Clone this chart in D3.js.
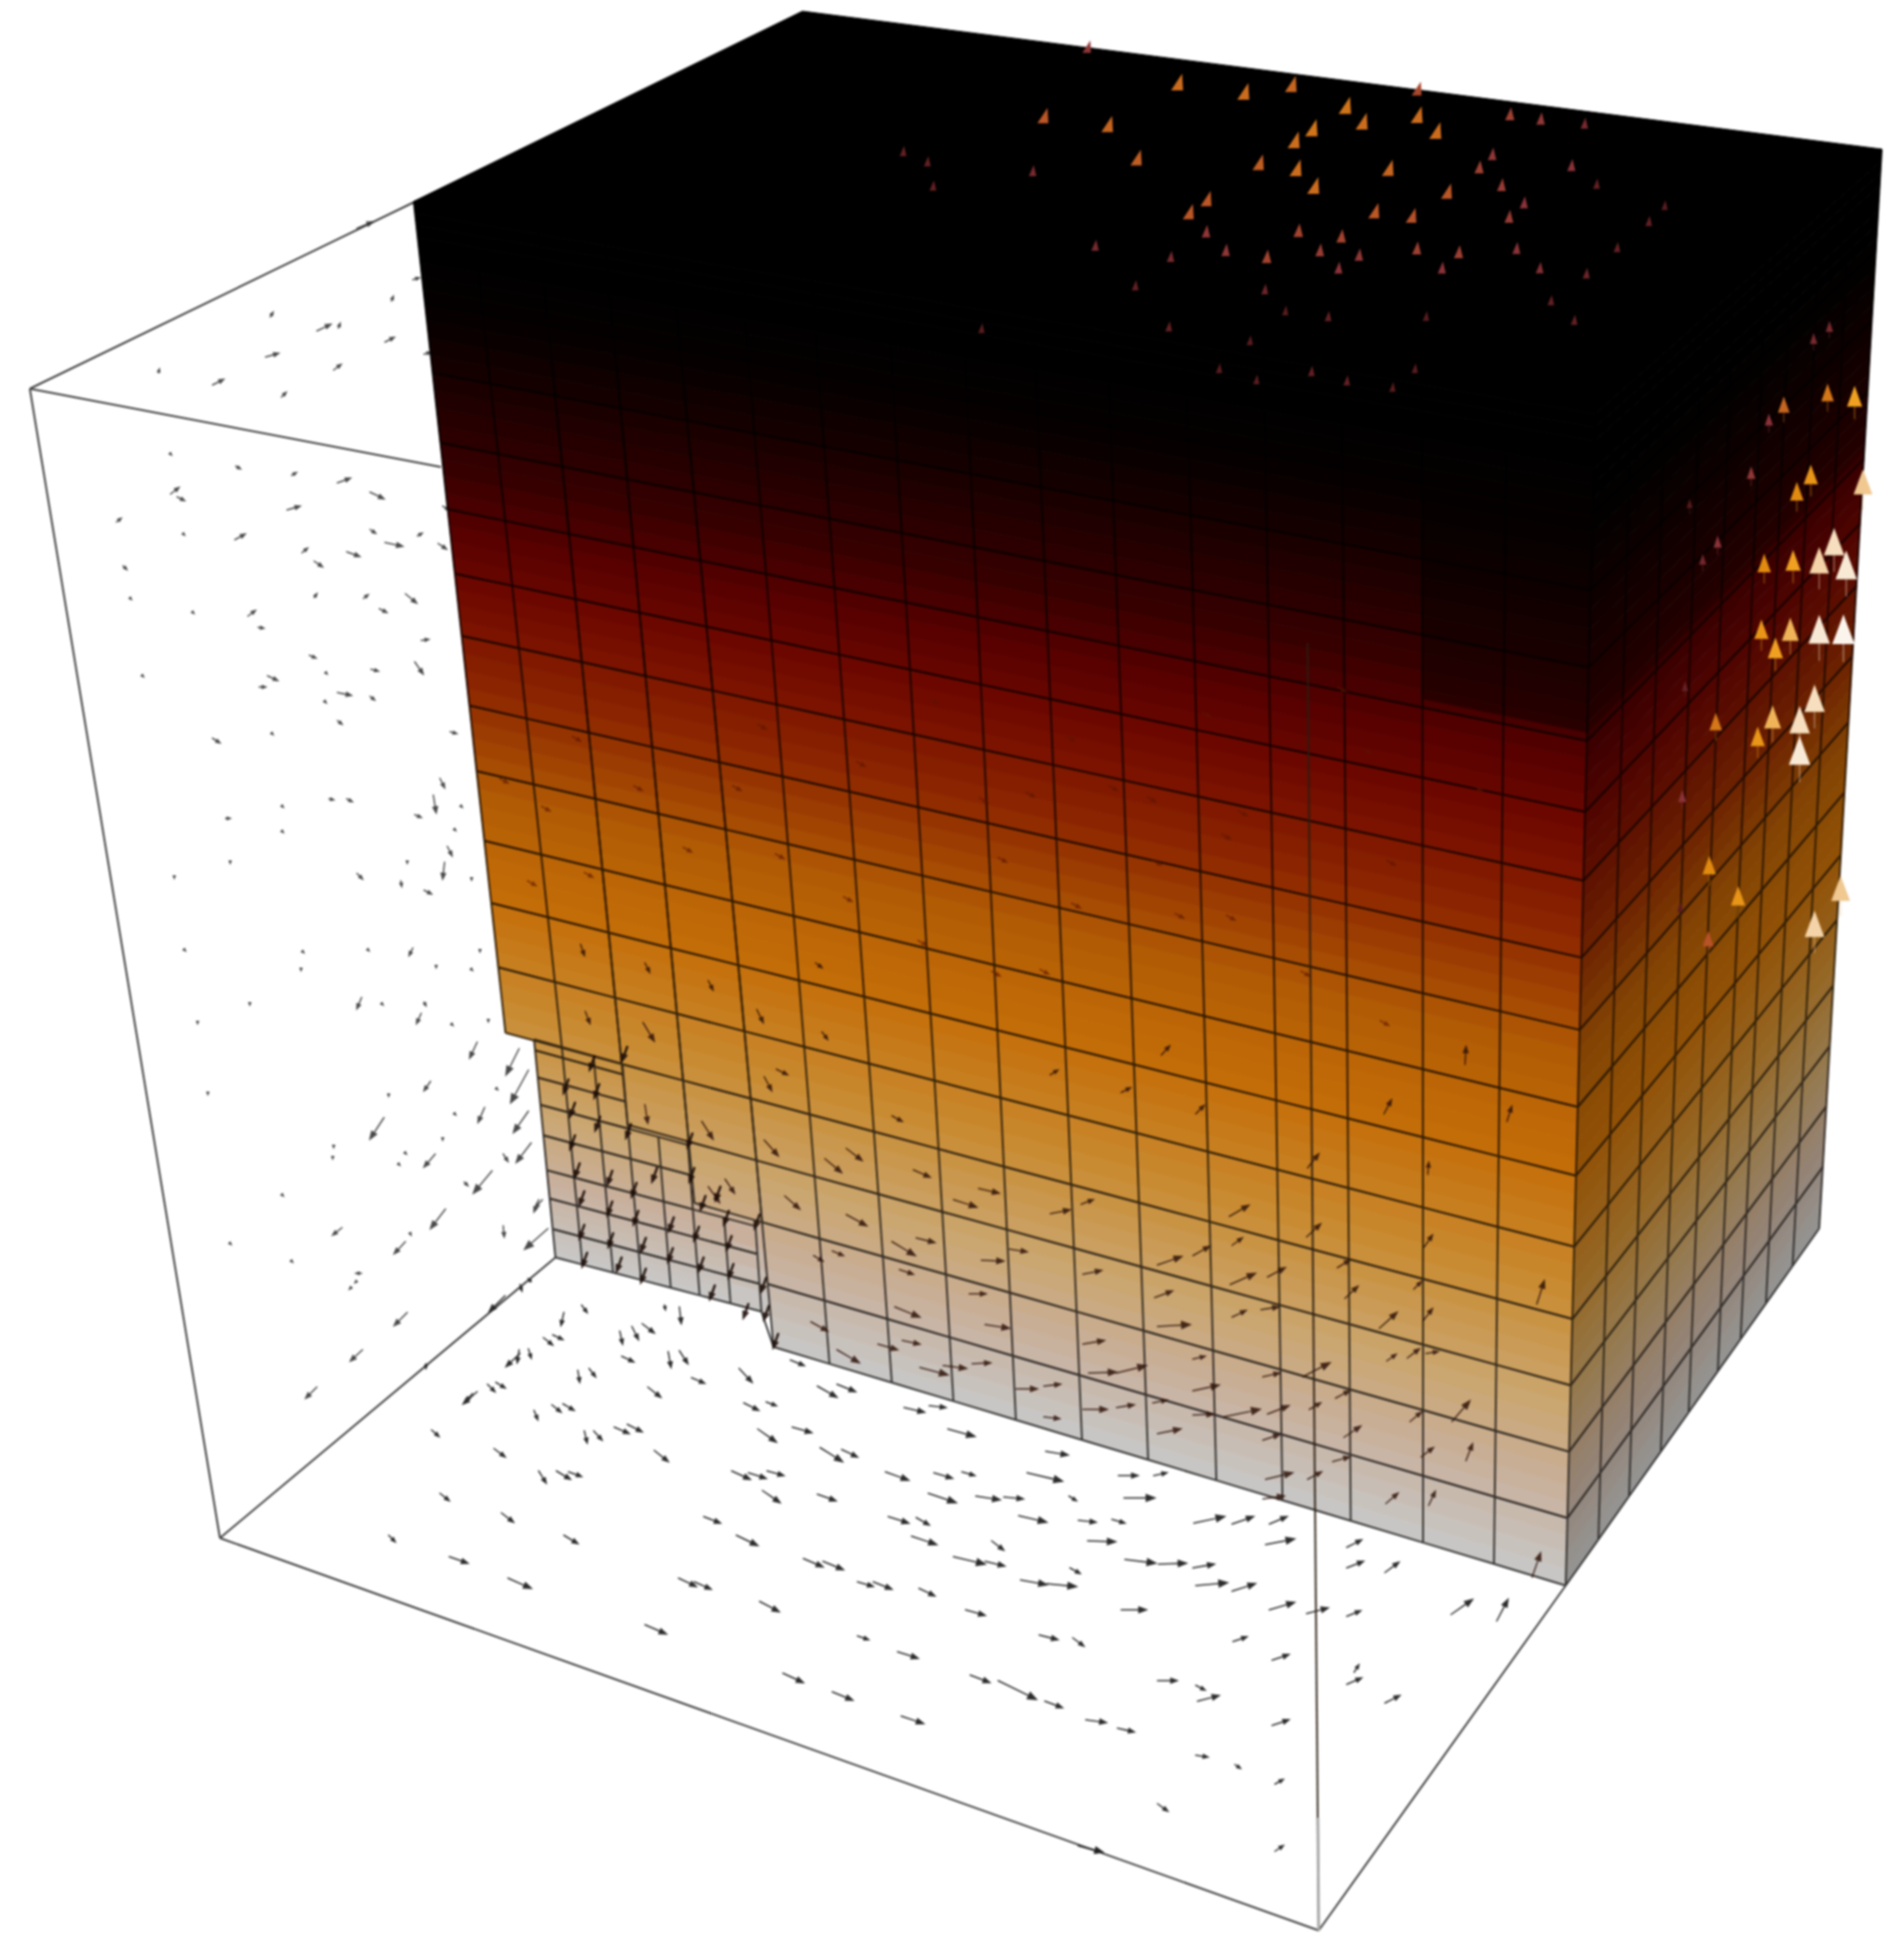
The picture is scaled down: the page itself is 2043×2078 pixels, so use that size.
<!DOCTYPE html>
<html>
<head>
<meta charset="utf-8">
<style>
  html, body { margin: 0; background: #fff; }
  svg { display: block; filter: blur(0.85px); }
</style>
<script src="https://cdn.jsdelivr.net/npm/d3@7"></script>
</head>
<body>
<svg id="container"></svg>
<script>
const width = 2043, height = 2078

const viewW = 2043, viewH = 2078

// height levels of the mesh, 0 = bottom of the block, 1 = top
const rowLevels = [0, .057, .113, .169, .225, .286, .346, .404, .469, .53, .595, .653, .713, .775, .84, .905, .955, 1]
// front face column lines, as fraction along bottom and top edge
const colBottom = [0, .054, .11, .168, .2335, .2877, .348, .4076, .468, .532, .596, .662, .726, .792, .862, .9306, 1]
const colTop = [0, .049, .105, .161, .217, .276, .336, .4, .464, .524, .586, .653, .719, .785, .853, .925, 1]
// first row index each front column starts from (stair at the lower left)
const colFirstRow = [4, 4, 3, 2, 0, 0, 0, 0, 0, 0, 0, 0, 0, 0, 0, 0]
// right face columns
const sideCols = [0, .129, .25, .375, .485, .6, .69, .79, .895, 1]
// refined block in the lower left corner
const fineCols = [0, .131, .28, .416, .56, .7, .85, 1]
const fineRows = [0, .13, .27, .4, .56, .7, .825, .95, 1]
const fineLastRow = [8, 8, 8, 5, 5, 3, 3]
const fineTopLevel = .225

// temperature colour along the height
const colorLevels = [0, .08, .15, .25, .35, .45, .55, .6, .65, .7, .75, .8, .85, .9, .95, 1]
const colorStops = ['#c8c8c8', '#c8b09c', '#caa670', '#c98a30', '#c46e08', '#b05a04', '#8c2600', '#7c1400', '#6a0600', '#540000', '#380000', '#260000', '#140000', '#060000', '#000000', '#000000']

// cube corners
const boxA = [32, 417], boxB = [236, 1650], boxC = [1415, 2071], boxBackTop = [444, 217], boxBackIn = [473, 501], boxFloorIn = [596, 1349], boxVerticalTop = [1403, 690], boxVerticalGrey = [1414, 1950]
const frontBL = [571, 1367], frontTL = [444, 216], frontBR = [1680, 1701], frontTR = [1712, 430]
const sideBR = [1952, 1318], sideTR = [2019, 160], topBack = [861, 12]
const fineBL = [596, 1349], fineBR = [817, 1407], fineTL = [573, 1115], fineTR = [801, 1178]

// [tail x, tail y, head x, head y]
const floorArrows = [
  [605,1408,602,1422],[624,1400,630,1408],[729,1402,731,1420],[713,1400,714,1405],[583,1435,593,1443],[593,1432,604,1437],
  [665,1428,668,1442],[678,1423,685,1437],[689,1420,702,1430],[558,1452,543,1466],[557,1448,555,1462],[567,1447,570,1457],
  [667,1455,680,1461],[717,1450,720,1467],[729,1449,738,1463],[793,1468,807,1483],[620,1470,622,1483],[632,1468,639,1477],
  [742,1478,756,1484],[523,1485,531,1493],[532,1483,542,1489],[512,1493,497,1506],[507,1495,500,1503],[695,1488,709,1499],
  [798,1505,814,1513],[822,1504,833,1508],[573,1513,577,1523],[592,1507,602,1515],[604,1506,616,1513],[463,1534,471,1541],
  [627,1535,630,1548],[637,1535,646,1545],[659,1531,675,1538],[673,1528,689,1536],[813,1533,833,1547],[850,1531,871,1537],
  [530,1554,542,1563],[702,1556,717,1568],[880,1553,904,1568],[903,1555,920,1563],[578,1578,586,1591],[597,1578,612,1587],
  [610,1579,624,1584],[785,1578,805,1587],[803,1580,822,1586],[823,1578,841,1583],[818,1599,837,1612],[877,1603,897,1610],
  [472,1602,482,1610],[538,1623,551,1633],[755,1627,773,1634],[605,1647,620,1656],[790,1647,813,1658],[417,1647,424,1654],
  [482,1670,502,1677],[862,1672,883,1681],[883,1675,905,1684],[545,1693,570,1704],[728,1693,747,1702],[745,1697,763,1705],
  [815,1718,836,1729],[692,1743,715,1753],[840,1795,862,1805],[893,1815,915,1824],[848,1459,863,1465],[877,1487,898,1499],
  [898,1485,918,1493],[570,1375,567,1372],[558,1378,560,1385],
  [970,1510,992,1515],[997,1508,1015,1510],[1017,1533,1046,1541],[1122,1557,1146,1561],[950,1579,975,1588],[1002,1580,1022,1586],
  [1032,1579,1046,1583],[1102,1580,1140,1589],[1200,1583,1221,1583],[1238,1583,1252,1580],[996,1602,1026,1612],[1047,1605,1073,1609],
  [1077,1606,1098,1608],[1147,1605,1155,1610],[1206,1607,1239,1607],[953,1627,975,1634],[983,1628,997,1636],[1093,1626,1123,1633],
  [1157,1631,1176,1633],[1193,1630,1207,1634],[1281,1634,1314,1627],[1322,1635,1345,1627],[1362,1635,1381,1627],[978,1648,1005,1657],
  [1064,1653,1077,1663],[1167,1653,1197,1654],[1358,1657,1389,1651],[1023,1670,1057,1678],[1057,1675,1078,1680],[1207,1673,1240,1677],
  [1243,1678,1273,1677],[1280,1682,1303,1678],[1148,1682,1159,1688],[920,1697,937,1702],[937,1697,957,1705],[1095,1695,1123,1700],
  [1123,1699,1155,1702],[986,1704,1003,1712],[1283,1701,1317,1698],[1322,1707,1347,1699],[1036,1727,1057,1733],[1203,1727,1230,1727],
  [1362,1727,1389,1719],[1402,1731,1425,1725],[920,1755,932,1759],[1115,1754,1135,1759],[1151,1757,1163,1766],[1323,1761,1338,1756],
  [963,1772,985,1779],[1365,1781,1383,1775],[1041,1797,1062,1805],[1242,1803,1263,1803],[1283,1808,1293,1813],[1071,1803,1112,1823],
  [1121,1825,1140,1832],[1285,1825,1308,1819],[967,1841,991,1849],[1165,1845,1187,1848],[1199,1854,1217,1858],[1365,1851,1383,1845],
  [1283,1883,1296,1885],[1325,1893,1331,1897],[1368,1914,1377,1909],[1242,1935,1253,1943],[1368,1986,1377,1980],[1157,1980,1183,1987],
  [1557,1732,1580,1716],[1606,1739,1618,1716],[1445,1682,1463,1675],[1486,1687,1501,1676],[1445,1660,1461,1652],[1445,1734,1460,1728],
  [1445,1807,1461,1800],[1453,1794,1458,1786],[1486,1827,1502,1819]
]

const wallArrows = [
  [443,300,450,298],[420,323,422,318],[290,340,293,335],[340,355,355,348],[363,352,365,347],[413,367,423,362],[285,383,299,379],
  [358,397,366,391],[170,400,171,396],[228,413,240,407],[302,426,307,421],[455,380,462,378],[383,245,400,238],
  [183,487,184,488],[253,500,258,503],[313,510,318,507],[362,518,376,513],[397,528,412,535],[183,530,192,523],[190,533,198,537],
  [308,547,322,543],[475,543,482,547],[125,560,130,556],[197,573,198,574],[252,579,263,573],[397,568,403,572],[413,582,432,586],
  [448,575,453,572],[470,583,479,589],[324,593,330,588],[372,592,386,597],[337,602,346,608],[132,607,136,611],[140,642,141,643],
  [337,641,340,637],[390,642,395,638],[435,637,447,647],[407,653,415,657],[207,657,208,658],[266,661,274,655],[277,673,283,674],
  [452,687,460,686],[332,703,339,706],[445,710,454,723],[398,718,406,720],[153,725,154,726],[287,725,298,730],[278,737,285,737],
  [350,722,351,723],[362,743,377,746],[397,747,402,751],[348,752,350,754],[362,773,367,777],[228,792,236,797],[292,787,293,788],
  [483,785,490,787],[472,835,477,845],[353,857,358,858],[372,857,378,860],[303,865,304,866],[465,853,468,872],[495,865,496,866],
  [445,874,452,877],[242,878,247,878],[303,892,304,893],[488,890,489,891],[480,908,485,918],[477,925,475,943],[437,925,437,926],
  [247,925,247,926],[187,941,187,942],[383,937,389,943],[430,945,431,951],[455,955,463,959],[506,943,506,944],[198,1019,199,1020],
  [325,1021,326,1022],[395,1019,396,1020],[443,1017,439,1025],[515,1020,515,1021],[468,1037,468,1038],[323,1040,323,1041],
  [506,1040,507,1041],[388,1070,383,1082],[268,1077,268,1078],[410,1077,411,1078],[455,1075,457,1079],[452,1087,447,1098],
  [524,1095,524,1096],[212,1097,212,1098],[485,1099,486,1100],[512,1118,504,1135],[557,1125,543,1153],[462,1160,455,1170],
  [567,1148,548,1183],[533,1168,534,1169],[223,1173,223,1174],[417,1175,417,1176],[520,1188,513,1204],[488,1195,489,1196],
  [412,1199,397,1222],[567,1192,551,1215],[475,1222,475,1223],[358,1230,358,1231],[357,1242,357,1243],[467,1238,455,1252],
  [570,1226,554,1247],[540,1238,545,1246],[435,1237,436,1238],[428,1249,429,1250],[528,1256,508,1280],[303,1282,304,1283],
  [498,1268,502,1272],[478,1297,462,1318],[578,1287,573,1300],[582,1287,574,1296],[540,1315,541,1327],[588,1318,563,1340],
  [367,1317,357,1325],[247,1334,248,1335],[313,1353,314,1354],[440,1323,441,1325],[435,1332,423,1345],[388,1366,382,1366],
  [382,1375,381,1376],[377,1381,375,1383],[437,1408,423,1422],[389,1448,376,1460],[340,1488,328,1500]
]

// arrows on the box edges that read as small blobs
const edgeArrows = [[542,1390,525,1407],[457,1463,457,1468],[1157,1980,1183,1987]]

const faceArrows = [
  [623,1013,627,1025],[692,1033,697,1043],[760,1052,765,1062],[875,1033,882,1038],[628,1085,633,1098],[690,1097,702,1117],
  [812,1083,819,1097],[882,1107,888,1115],[820,1155,828,1170],[833,1147,845,1153],[957,1197,968,1203],[692,1185,695,1205],
  [753,1203,765,1222],[820,1223,835,1240],[908,1232,925,1245],[885,1243,903,1258],[980,1255,998,1263],[778,1265,788,1280],
  [760,1273,772,1290],[842,1283,858,1297],[1023,1287,1048,1295],[908,1303,930,1315],[1050,1275,1072,1280],[957,1332,982,1347],
  [983,1328,1003,1333],[1053,1352,1077,1353],[1083,1340,1102,1343],[873,1347,883,1353],[893,1342,905,1347],[965,1362,980,1367],
  [1040,1388,1058,1388],[960,1402,987,1413],[1057,1421,1083,1425],[870,1418,888,1428],[942,1442,963,1448],[968,1438,987,1442],
  [898,1448,922,1462],[987,1467,1017,1475],[1012,1465,1037,1468],[1043,1463,1063,1462],[1090,1490,1113,1490],
  [1246,1132,1255,1122],[1127,1153,1135,1148],[1203,1172,1213,1167],[1283,1195,1292,1186],[1485,1195,1493,1180],[1572,1142,1573,1123],
  [1617,1203,1622,1187],[1403,1253,1415,1238],[1532,1260,1533,1247],[1127,1302,1148,1298],[1160,1292,1173,1287],[1319,1305,1340,1293],
  [1402,1327,1417,1313],[1528,1338,1537,1325],[1322,1336,1333,1328],[1242,1357,1268,1348],[1280,1347,1298,1337],[1162,1367,1182,1363],
  [1435,1360,1448,1352],[1320,1378,1347,1366],[1360,1370,1379,1360],[1443,1393,1457,1380],[1517,1383,1525,1375],[1239,1392,1258,1385],
  [1322,1413,1337,1406],[1353,1405,1372,1402],[1480,1425,1499,1408],[1527,1417,1537,1404],[1242,1423,1277,1421],[1162,1442,1185,1438],
  [1488,1460,1498,1453],[1510,1457,1523,1447],[1530,1452,1543,1450],[1280,1458,1293,1455],[1398,1477,1427,1462],[1168,1473,1198,1472],
  [1198,1473,1230,1465],[1355,1477,1373,1473],[1280,1492,1308,1486],[1120,1487,1138,1485],[1433,1500,1448,1492],[1237,1505,1252,1502],
  [1405,1512,1417,1505],[1162,1512,1188,1512],[1198,1510,1217,1507],[1513,1525,1525,1515],[1558,1525,1577,1503],[1280,1518,1302,1517],
  [1313,1520,1352,1512],[1360,1517,1383,1508],[1120,1520,1137,1522],[1442,1542,1460,1530],[1242,1538,1267,1533],[1355,1545,1373,1539],
  [1525,1563,1538,1553],[1573,1567,1580,1549],[1430,1568,1448,1563],[1358,1587,1387,1580],[1403,1587,1418,1579],[1487,1613,1500,1602],
  [1533,1615,1540,1600],[1355,1608,1378,1605],[1644,1692,1653,1666],[1649,1399,1657,1374]
]

// tips of the short arrows sitting on the refined block
const fineTips = [
  [605,1172],[612,1197],[612,1232],[617,1262],[622,1292],[622,1328],[633,1147],[638,1177],[639,1212],[652,1270],[652,1303],[653,1337],
  [668,1137],[672,1220],[678,1283],[680,1313],[688,1342],[700,1267],[718,1320],[717,1353],[738,1230],[740,1267],[752,1297],[745,1330],
  [750,1363],[768,1287],[777,1313],[780,1340],[782,1370],[810,1317],[817,1385],[820,1415],[830,1445],[798,1413],[762,1393],[688,1375],
  [662,1363],[625,1358]
]

// tips of the faint arrows in the orange and red band
const faintTips = [
  [841,921],[914,967],[994,1014],[1073,1047],[1159,974],[1246,928],[1325,987],[1405,1047],[1497,928],[795,848],[928,822],[1060,861],
  [1199,848],[1338,875],[1471,808],[742,914],[636,941],[689,848],[623,795],[822,782],[1007,755],[1153,795],[1299,769],[1444,742],
  [1590,848],[1240,860],[1110,855],[1320,900],[1080,925],[1270,985],[1125,1045],[1490,1100],[545,840],[590,870],[575,950]
]

// cones: centre x, centre y, speed 0..1
const topCones = [
  [1263,88,.42],[1334,98,.42],[1385,90,.4],[1443,113,.44],[1461,130,.42],[1520,123,.42],[1540,140,.42],[1407,137,.44],[1388,150,.42],
  [1119,124,.36],[1188,133,.4],[1219,169,.38],[1350,174,.38],[1390,180,.42],[1489,180,.4],[1409,199,.42],[1552,205,.36],[1294,213,.36],
  [1275,227,.36],[1474,226,.36],[1514,231,.34],[1520,95,.3],[1166,50,.22]
]
const redCones = [
  [1620,122,.26],[1653,127,.22],[1700,132,.16],[1601,165,.22],[1587,179,.26],[1686,177,.2],[1611,198,.24],[1635,217,.2],[1619,232,.24],
  [1713,197,.12],[1786,220,.1],[1769,237,.12],[1294,248,.22],[1393,247,.28],[1439,253,.28],[1315,268,.22],[1359,275,.28],[1416,268,.24],
  [1458,273,.22],[1520,266,.26],[1565,270,.26],[1627,266,.2],[1735,265,.12],[1175,263,.16],[1256,275,.16],[1436,287,.2],[1547,287,.2],
  [1652,287,.18],[1702,293,.14],[969,162,.12],[995,173,.12],[1001,199,.12],[1108,183,.16],[1218,306,.12],[1357,310,.14],[1664,322,.12],
  [1689,343,.12],[1379,333,.1],[1425,339,.12],[1530,339,.1],[1254,350,.12],[1053,352,.1],[1341,365,.1],[1308,395,.1],[1407,398,.12],
  [1445,408,.12],[1518,395,.1],[1494,415,.1],[1348,407,.1]
]
const sideCones = [
  [1946,363,.16],[1963,350,.16],[1961,421,.45],[1990,425,.6],[1914,434,.4],[1898,450,.2],[1879,507,.22],[1943,509,.55],[1928,527,.5],
  [1999,517,.8],[1813,540,.08],[1843,581,.2],[1827,600,.15],[1893,604,.5],[1924,601,.6],[1952,601,.85],[1968,581,.9],[1981,606,.95],
  [1890,675,.55],[1905,695,.6],[1921,675,.7],[1952,675,.95],[1978,675,1],[1808,736,.12],[1841,774,.45],[1902,769,.7],[1886,790,.55],
  [1947,749,.9],[1931,772,.9],[1931,805,.95],[1805,854,.2],[1834,928,.5],[1865,961,.55],[1975,953,.8],[1947,991,.85],[1833,1007,.35],
  [1803,973,.1]
]
const coneSpeeds = [0, .1, .2, .35, .5, .6, .8, 1]
const coneColors = ['#3a1010', '#5a1c1e', '#8a3238', '#b85228', '#e08a10', '#f0a020', '#f0c890', '#fbf4ec']

// darker patch at the upper right of the block
const shadeLevels = [.72, .9], shadeCols = [14, 16]

const svg = d3.select('#container').attr('width', width).attr('height', height)

const sx = d3.scaleLinear([0, viewW], [0, width])
const sy = d3.scaleLinear([0, viewH], [0, height])
const levelColor = d3.scaleLinear(colorLevels, colorStops)
const coneColor = d3.scaleLinear(coneSpeeds, coneColors)
const coneH = d3.scaleLinear([0, 1], [8, 32])
const coneW = d3.scaleLinear([0, 1], [5, 24])

const mix = (a, b, t) => [a[0] + (b[0] - a[0]) * t, a[1] + (b[1] - a[1]) * t]
const toView = (p) => [sx(p[0]), sy(p[1])]
const poly = (pts) => d3.line()(pts.map(toView)) + 'Z'
const tinted = (col, tint) => {
  const c = d3.rgb(col)
  return d3.rgb(c.r * tint, c.g * tint, c.b * tint).formatHex()
}
const lineColor = (l) => tinted(levelColor(l), 0.27)

// front face, column index and height level to picture
const frontPoint = (c, l) => {
  const u = colBottom[c] + (colTop[c] - colBottom[c]) * l
  return mix(mix(frontBL, frontTL, l), mix(frontBR, frontTR, l), u)
}
const sidePoint = (u, l) => mix(mix(frontBR, frontTR, l), mix(sideBR, sideTR, l), u)
const finePoint = (u, v) => mix(mix(fineBL, fineTL, v), mix(fineBR, fineTR, v), u)

// box edges behind the block
const edges = svg.append('g').attr('fill', 'none').attr('stroke', '#404040').attr('stroke-width', 2)
;[[boxA, boxBackTop], [boxA, boxBackIn], [boxA, boxB], [boxB, boxFloorIn], [boxB, boxC], [boxC, frontBR]].forEach((e) => {
  edges.append('path').attr('d', d3.line()(e.map(toView)))
})

const drawArrows = (parent, list, color, opacity, weight = 1.5) => {
  parent.append('g')
    .attr('fill', color)
    .attr('stroke', color)
    .attr('stroke-width', weight)
    .attr('stroke-linecap', 'round')
    .attr('opacity', opacity)
    .selectAll('path')
    .data(list)
    .join('path')
    .attr('d', (d) => {
      const t = toView([d[0], d[1]]), h = toView([d[2], d[3]])
      const dx = h[0] - t[0], dy = h[1] - t[1], len = Math.hypot(dx, dy) || 1
      const ux = dx / len, uy = dy / len
      const back = Math.min(2 + len * 0.22, 9), half = Math.min(0.8 + len * 0.08, 3.6)
      const bx = h[0] - ux * back, by = h[1] - uy * back
      return `M${t}L${bx},${by}L${bx - uy * half},${by + ux * half}L${h}L${bx + uy * half},${by - ux * half}L${bx},${by}`
    })
}

drawArrows(svg, wallArrows, '#2a2a2a', 0.85)
drawArrows(svg, floorArrows, '#222', 0.95)
drawArrows(svg, edgeArrows, '#222', 0.95)

// solid block, drawn over the arrows behind it
const solid = svg.append('g')
solid.append('path').attr('d', poly([frontTL, topBack, sideTR, frontTR])).attr('fill', '#000').attr('stroke', '#000')

const strips = 4
const strip = (parent, pt, a0, a1, l0, l1, tint) => {
  d3.range(strips).forEach((j) => {
    const f0 = l0 + (l1 - l0) * j / strips, f1 = l0 + (l1 - l0) * (j + 1) / strips
    let col = levelColor((f0 + f1) / 2)
    if (tint) col = tinted(col, tint)
    parent.append('path')
      .attr('d', poly([pt(a0, f0), pt(a1, f0), pt(a1, f1), pt(a0, f1)]))
      .attr('fill', col).attr('stroke', col).attr('stroke-width', 0.9)
  })
}

// fine block first, the coarse cells overlap its seam
const finePt = (a, l) => finePoint(a, l / fineTopLevel)
fineLastRow.forEach((last, c) => {
  d3.range(last).forEach((r) => {
    strip(solid, finePt, fineCols[c], fineCols[c + 1], fineRows[r] * fineTopLevel, fineRows[r + 1] * fineTopLevel)
  })
  // run a little under the coarse cells so no gap is left at the stair
  const reach = c === fineLastRow.length - 1 ? 1.05 : fineCols[c + 1]
  strip(solid, finePt, fineCols[c], reach, fineRows[last - 1] * fineTopLevel, (fineRows[last] + 0.1) * fineTopLevel)
})
strip(solid, finePt, fineCols[6], 1.05, 0, fineRows[3] * fineTopLevel)

colFirstRow.forEach((first, c) => {
  d3.range(first, rowLevels.length - 1).forEach((r) => {
    strip(solid, frontPoint, c, c + 1, rowLevels[r], rowLevels[r + 1])
  })
})

d3.range(sideCols.length - 1).forEach((c) => {
  d3.range(rowLevels.length - 1).forEach((r) => {
    strip(solid, sidePoint, sideCols[c], sideCols[c + 1], rowLevels[r], rowLevels[r + 1], 0.74)
  })
})

// mesh lines take their colour from the level they sit on, so they vanish in the black part
const mesh = svg.append('g').attr('fill', 'none').attr('stroke-width', 2)
const cellLine = (pts, l) => mesh.append('path').attr('d', d3.line()(pts.map(toView))).attr('stroke', lineColor(l))

colFirstRow.forEach((first, c) => {
  d3.range(first, rowLevels.length - 1).forEach((r) => {
    const l0 = rowLevels[r], l1 = rowLevels[r + 1]
    const a = frontPoint(c, l0), b = frontPoint(c + 1, l0), e = frontPoint(c + 1, l1), f = frontPoint(c, l1)
    cellLine([a, b], l0)
    cellLine([b, e], (l0 + l1) / 2)
    cellLine([f, e], l1)
    if (c === 0 || first < colFirstRow[c - 1]) cellLine([a, f], (l0 + l1) / 2)
  })
})
d3.range(sideCols.length - 1).forEach((c) => {
  d3.range(rowLevels.length - 1).forEach((r) => {
    const u0 = sideCols[c], u1 = sideCols[c + 1], l0 = rowLevels[r], l1 = rowLevels[r + 1]
    cellLine([sidePoint(u0, l0), sidePoint(u1, l0)], l0)
    cellLine([sidePoint(u1, l0), sidePoint(u1, l1)], (l0 + l1) / 2)
    cellLine([sidePoint(u0, l1), sidePoint(u1, l1)], l1)
  })
})
fineLastRow.forEach((last, c) => {
  d3.range(last).forEach((r) => {
    const u0 = fineCols[c], u1 = fineCols[c + 1], v0 = fineRows[r], v1 = fineRows[r + 1]
    const l0 = v0 * fineTopLevel
    cellLine([finePoint(u0, v0), finePoint(u1, v0)], l0)
    cellLine([finePoint(u1, v0), finePoint(u1, v1)], l0)
    cellLine([finePoint(u0, v1), finePoint(u1, v1)], l0)
    if (c === 0) cellLine([finePoint(u0, v0), finePoint(u0, v1)], l0)
  })
})
cellLine([fineBR, frontPoint(4, 0)], 0)

// dark patch
svg.append('path')
  .attr('d', poly([frontPoint(shadeCols[0], shadeLevels[0]), frontPoint(shadeCols[1], shadeLevels[0]), frontPoint(shadeCols[1], shadeLevels[1]), frontPoint(shadeCols[0], shadeLevels[1])]))
  .attr('fill', '#000').attr('opacity', 0.42)
svg.append('path')
  .attr('d', poly([sidePoint(0, shadeLevels[0]), sidePoint(1, shadeLevels[0]), sidePoint(1, 1), sidePoint(0, 1)]))
  .attr('fill', '#000').attr('opacity', 0.24)

// arrows on the block surface
drawArrows(svg, faintTips.map((d) => [d[0] - 9, d[1] - 5, d[0], d[1]]), '#5a1500', 0.65)
drawArrows(svg, faceArrows, '#2e1208', 0.85)
drawArrows(svg, fineTips.map((d) => [d[0] + 5, d[1] - 14, d[0], d[1]]), '#1c0c06', 0.9, 2.6)

// front vertical edge of the box runs over the block
svg.append('path').attr('d', d3.line()([boxVerticalTop, boxC].map(toView)))
  .attr('fill', 'none').attr('stroke', '#2a1c10').attr('stroke-width', 2.2).attr('opacity', 0.85)
svg.append('path').attr('d', d3.line()([boxVerticalGrey, boxC].map(toView)))
  .attr('fill', 'none').attr('stroke', '#aaa').attr('stroke-width', 3)

// cones, the top ones lean with the view
const drawCones = (list, lean, shaft) => {
  const g = svg.append('g')
  list.forEach((d) => {
    const [x, y] = toView(d)
    const h = coneH(d[2]), w = coneW(d[2]), col = coneColor(d[2])
    if (shaft) {
      g.append('line').attr('x1', x).attr('x2', x).attr('y1', y + h / 2).attr('y2', y + h / 2 + h * 0.6)
        .attr('stroke', col).attr('stroke-width', 1.6).attr('opacity', 0.4)
    }
    g.append('path')
      .attr('d', `M${x + lean * h},${y - h / 2}L${x + w / 2},${y + h / 2}L${x - w / 2},${y + h / 2}Z`)
      .attr('fill', col)
  })
}
drawCones(topCones, 0.3, false)
drawCones(redCones, 0.1, false)
drawCones(sideCones, 0, true)
</script>
</body>
</html>
